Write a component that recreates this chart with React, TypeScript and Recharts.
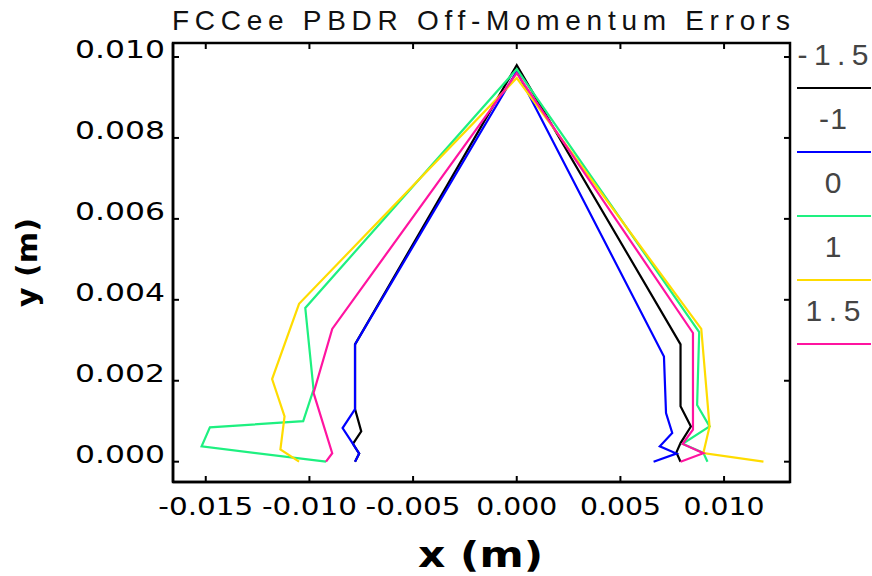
import React from "react";
import { LineChart, Line, XAxis, YAxis, Legend, ReferenceArea } from "recharts";

// ---- data ----
const seriesNames = ["-1.5", "-1", "0", "1", "1.5"];
const seriesColors = ["#000000", "#0000ff", "#1ef080", "#ffdc00", "#ff14a0"];

const m15X = [-0.0078, -0.0076, -0.0079, -0.0075, -0.0078, -0.0078, 0, 0.0079, 0.0079, 0.0084, 0.0079, 0.0077, 0.0079];
const m15Y = [0, 0.0002, 0.00044, 0.00075, 0.0013, 0.0029, 0.0098, 0.0029, 0.00137, 0.00087, 0.00046, 0.00023, 0];

const m1X = [-0.0078, -0.0076, -0.0079, -0.0084, -0.0078, -0.0078, 0, 0.0071, 0.0072, 0.0075, 0.0069, 0.0077, 0.0066];
const m1Y = [0, 0.0002, 0.00044, 0.00083, 0.0013, 0.0029, 0.00965, 0.0026, 0.0012, 0.00071, 0.00038, 0.0002, 0];

const z0X = [-0.0092, -0.0152, -0.0148, -0.0103, -0.0098, -0.0102, 0, 0.0088, 0.0087, 0.0093, 0.008, 0.009, 0.0092];
const z0Y = [0, 0.00038, 0.00085, 0.001, 0.00178, 0.0038, 0.0097, 0.0032, 0.0014, 0.00087, 0.00044, 0.00022, 0];

const p1X = [-0.0105, -0.0114, -0.0112, -0.0118, -0.0105, 0, 0.0089, 0.0093, 0.009, 0.0119];
const p1Y = [0, 0.0003, 0.00112, 0.00204, 0.0039, 0.00948, 0.00328, 0.00087, 0.00021, 0];

const p15X = [-0.0092, -0.0089, -0.0098, -0.0089, 0, 0.0085, 0.0085, 0.008, 0.009, 0.0079];
const p15Y = [0, 0.00021, 0.0017, 0.00328, 0.0096, 0.00318, 0.00079, 0.00044, 0.00021, 0];

const xTicks = [-0.015, -0.01, -0.005, 0, 0.005, 0.01];
const xTickLabels = ["-0.015", "-0.010", "-0.005", "0.000", "0.005", "0.010"];
const yTicks = [0, 0.002, 0.004, 0.006, 0.008, 0.01];
const yTickLabels = ["0.000", "0.002", "0.004", "0.006", "0.008", "0.010"];

const xDomain = [-0.01658, 0.01318];
const yDomain = [-0.000502, 0.010346];

const zip = (xs: number[], ys: number[]) => xs.map((x, i) => ({ x, y: ys[i] }));
const seriesData = [zip(m15X, m15Y), zip(m1X, m1Y), zip(z0X, z0Y), zip(p1X, p1Y), zip(p15X, p15Y)];

// ---- layout ----
const W = 872;
const H = 576;
const PLOT_LEFT = 173;
const PLOT_TOP = 43;
const PLOT_RIGHT = 790;
const PLOT_BOTTOM = 482;
const TICK_LEN = 6;

const tickFont = "'DejaVu Sans', sans-serif";
const legendTextWidth: Record<number, number> = { 4: 71, 3: 55, 2: 28 };

const XTick = (props: any) => {
  const { x, y, payload } = props;
  const label = xTickLabels[xTicks.indexOf(payload.value)] ?? String(payload.value);
  return (
    <g>
      <line x1={x} y1={y} x2={x} y2={y - TICK_LEN} stroke="#000" strokeWidth={2} />
      <line x1={x} y1={PLOT_TOP} x2={x} y2={PLOT_TOP + TICK_LEN} stroke="#000" strokeWidth={2} />
      <text
        x={x}
        y={y + 25}
        textAnchor="middle"
        dominantBaseline="central"
        fontFamily={tickFont}
        fontSize={24}
        fill="#000"
        textLength={label.length === 6 ? 95 : 81}
        lengthAdjust="spacingAndGlyphs"
      >
        {label}
      </text>
    </g>
  );
};

const YTick = (props: any) => {
  const { x, y, payload } = props;
  const label = yTickLabels[yTicks.indexOf(payload.value)] ?? String(payload.value);
  return (
    <g>
      <line x1={x} y1={y} x2={x + TICK_LEN} y2={y} stroke="#000" strokeWidth={2} />
      <line x1={PLOT_RIGHT - TICK_LEN} y1={y} x2={PLOT_RIGHT} y2={y} stroke="#000" strokeWidth={2} />
      <text
        x={x - 8}
        y={y - 7}
        textAnchor="end"
        dominantBaseline="central"
        fontFamily={tickFont}
        fontSize={24}
        fill="#000"
        textLength={90}
        lengthAdjust="spacingAndGlyphs"
      >
        {label}
      </text>
    </g>
  );
};

const XLabel = (props: any) => {
  const vb = props.viewBox || { x: PLOT_LEFT, y: PLOT_BOTTOM, width: PLOT_RIGHT - PLOT_LEFT, height: 60 };
  const cx = vb.x + vb.width / 2 - 1;
  return (
    <text
      x={cx}
      y={PLOT_BOTTOM + 85}
      textAnchor="middle"
      fontFamily={tickFont}
      fontWeight="bold"
      fontSize={36}
      fill="#000"
      textLength={125}
      lengthAdjust="spacingAndGlyphs"
    >
      x (m)
    </text>
  );
};

const YLabel = (props: any) => {
  const vb = props.viewBox || { x: 0, y: PLOT_TOP, width: PLOT_LEFT, height: PLOT_BOTTOM - PLOT_TOP };
  const cy = vb.y + vb.height / 2;
  const cx = 37;
  return (
    <text
      x={cx}
      y={cy}
      transform={`rotate(-90, ${cx}, ${cy})`}
      textAnchor="middle"
      fontFamily={tickFont}
      fontWeight="bold"
      fontSize={28}
      fill="#000"
      textLength={89}
      lengthAdjust="spacingAndGlyphs"
    >
      y (m)
    </text>
  );
};

const LegendContent = (props: any) => {
  const payload = [...(props.payload || [])].sort(
    (a: any, b: any) => seriesNames.indexOf(String(a.value)) - seriesNames.indexOf(String(b.value))
  );
  return (
    <svg width={76} height={330} style={{ display: "block" }}>
      {payload.map((p: any, i: number) => {
        const ly = 58 + i * 64;
        const label = String(p.value);
        const tl = legendTextWidth[label.length];
        return (
          <g key={label}>
            <text
              x={37}
              y={ly - 23}
              textAnchor="middle"
              fontFamily="'Liberation Sans', sans-serif"
              fontSize={30}
              fill="#444"
              textLength={tl}
              lengthAdjust="spacing"
            >
              {label}
            </text>
            <line x1={1} y1={ly} x2={75} y2={ly} stroke={p.color} strokeWidth={2} />
          </g>
        );
      })}
    </svg>
  );
};

export default function App() {
  return (
    <div style={{ position: "absolute", left: 0, top: 0, width: W, height: H, background: "#fff", overflow: "hidden" }}>
      <div style={{ position: "absolute", left: PLOT_LEFT - 1, top: 2, width: PLOT_RIGHT - PLOT_LEFT + 4, height: 34 }}>
        <svg width={PLOT_RIGHT - PLOT_LEFT + 4} height={34} style={{ display: "block" }}>
          <text
            x={0}
            y={28}
            fontFamily="'Liberation Sans', sans-serif"
            fontSize={28}
            fill="#111"
            textLength={PLOT_RIGHT - PLOT_LEFT + 1}
            lengthAdjust="spacing"
          >
            FCCee PBDR Off-Momentum Errors
          </text>
        </svg>
      </div>
      <LineChart
        width={W}
        height={H}
        margin={{ top: PLOT_TOP, right: W - PLOT_RIGHT, left: 0, bottom: H - PLOT_BOTTOM - 60 }}
        style={{ position: "absolute", left: 0, top: 0 }}
      >
        <XAxis
          xAxisId="main"
          type="number"
          dataKey="x"
          domain={xDomain}
          allowDataOverflow
          ticks={xTicks}
          interval={0}
          height={60}
          tickSize={0}
          tickMargin={0}
          tickLine={false}
          tick={<XTick />}
          axisLine={{ stroke: "#000", strokeWidth: 2.5 }}
          label={<XLabel />}
        />
        <YAxis
          yAxisId="main"
          type="number"
          dataKey="y"
          domain={yDomain}
          allowDataOverflow
          ticks={yTicks}
          interval={0}
          width={PLOT_LEFT}
          tickSize={0}
          tickMargin={0}
          tickLine={false}
          tick={<YTick />}
          axisLine={{ stroke: "#000", strokeWidth: 2.5 }}
          label={<YLabel />}
        />
        <ReferenceArea
          xAxisId="main"
          yAxisId="main"
          x1={xDomain[0]}
          x2={xDomain[1]}
          y1={yDomain[0]}
          y2={yDomain[1]}
          fill="none"
          fillOpacity={0}
          stroke="#000"
          strokeWidth={2.5}
          ifOverflow="visible"
        />
        <Legend
          layout="vertical"
          align="center"
          verticalAlign="middle"
          content={<LegendContent />}
          wrapperStyle={{ position: "absolute", left: 796, top: 30, width: 76, height: 330 }}
        />
        {seriesData.map((d, i) => (
          <Line
            key={seriesNames[i]}
            xAxisId="main"
            yAxisId="main"
            data={d}
            dataKey="y"
            name={seriesNames[i]}
            stroke={seriesColors[i]}
            strokeWidth={2.2}
            dot={false}
            activeDot={false}
            isAnimationActive={false}
            strokeLinejoin="miter"
          />
        ))}
      </LineChart>
    </div>
  );
}
